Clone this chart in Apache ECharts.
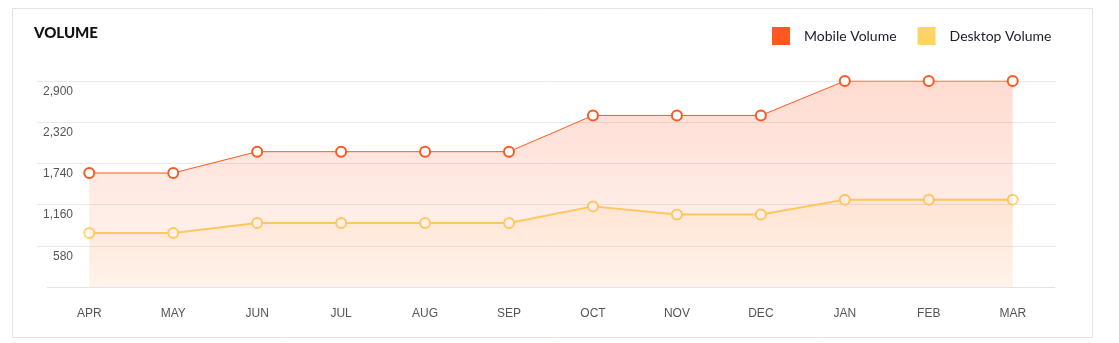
<!DOCTYPE html>
<html>
<head>
<meta charset="utf-8">
<script src="https://cdn.jsdelivr.net/npm/echarts@6/dist/echarts.min.js"></script>
<style>
  html, body { margin: 0; padding: 0; background: #fff; }
  #chart { width: 1119px; height: 343px; }
</style>
</head>
<body>
<div id="chart"></div>
<script>
// Monthly volume, April through March
const months = ['APR', 'MAY', 'JUN', 'JUL', 'AUG', 'SEP', 'OCT', 'NOV', 'DEC', 'JAN', 'FEB', 'MAR'];
const mobileVolume = [1605, 1605, 1905, 1905, 1905, 1905, 2415, 2415, 2415, 2900, 2900, 2900];
const desktopVolume = [760, 760, 900, 900, 900, 900, 1135, 1020, 1020, 1230, 1230, 1230];
const yTicks = [0, 580, 1160, 1740, 2320, 2900];

const MOBILE = '#ff5722';
const DESKTOP = '#ffd465';
const GRID_TOP = 81;
const GRID_BOTTOM = 343 - 287;

const chart = echarts.init(document.getElementById('chart'));

chart.setOption({
  animation: false,
  backgroundColor: '#fff',
  graphic: [{
    type: 'rect',
    shape: { x: 12.5, y: 8.5, width: 1080, height: 329 },
    style: { fill: 'none', stroke: '#e2e3ea', lineWidth: 1 },
    z: -1
  }],
  title: {
    text: 'VOLUME',
    left: 34,
    top: 26,
    padding: 0,
    textStyle: { fontFamily: 'Lato', fontWeight: 900, fontSize: 15, color: '#111' }
  },
  legend: {
    left: 772,
    top: 27,
    padding: 0,
    icon: 'rect',
    itemWidth: 18,
    itemHeight: 18,
    itemGap: 21,
    itemStyle: { borderWidth: 0 },
    textStyle: { fontFamily: 'Lato', fontSize: 14, color: '#1c1c2a', padding: [0, 0, 0, 9] },
    data: [
      { name: 'Mobile Volume', itemStyle: { color: MOBILE } },
      { name: 'Desktop Volume', itemStyle: { color: DESKTOP } }
    ]
  },
  grid: [
    // grid for the horizontal guide lines and value labels
    { left: 37, right: 1119 - 1056, top: GRID_TOP, bottom: GRID_BOTTOM },
    // grid for the months and the two series
    { left: 47.3, right: 1119 - 1054.7, top: GRID_TOP, bottom: GRID_BOTTOM }
  ],
  xAxis: [
    { gridIndex: 0, type: 'value', show: false },
    {
      gridIndex: 1,
      type: 'category',
      data: months,
      boundaryGap: true,
      axisLine: { lineStyle: { color: '#e2e3ea' } },
      axisTick: { show: false },
      axisLabel: { color: '#555', fontFamily: 'Liberation Sans', fontSize: 12, margin: 21 }
    }
  ],
  yAxis: [
    {
      gridIndex: 0,
      type: 'value',
      min: yTicks[0],
      max: yTicks[yTicks.length - 1],
      interval: yTicks[1] - yTicks[0],
      axisLine: { show: false },
      axisTick: { show: false },
      splitLine: {
        lineStyle: { color: ['rgba(0,0,0,0)', '#e8e9ee', '#e8e9ee', '#e8e9ee', '#e8e9ee', '#e8e9ee'] }
      },
      axisLabel: {
        inside: true,
        align: 'right',
        verticalAlign: 'top',
        margin: 36,
        lineHeight: 13,
        padding: [4, 0, 0, 0],
        color: '#555',
        fontFamily: 'Liberation Sans',
        fontSize: 12,
        formatter: v => (v === 0 ? '' : v.toLocaleString('en-US'))
      }
    },
    {
      gridIndex: 1,
      type: 'value',
      min: yTicks[0],
      max: yTicks[yTicks.length - 1],
      show: false,
      splitLine: { show: false }
    }
  ],
  series: [
    {
      name: 'Mobile Volume',
      type: 'line',
      xAxisIndex: 1,
      yAxisIndex: 1,
      data: mobileVolume,
      color: MOBILE,
      symbol: 'circle',
      symbolSize: 10,
      lineStyle: { color: MOBILE, width: 1 },
      itemStyle: { color: '#fff', borderColor: MOBILE, borderWidth: 2 },
      areaStyle: {
        origin: 'start',
        color: new echarts.graphic.LinearGradient(0, 0, 0, 1, [
          { offset: 0, color: 'rgba(255,87,34,0.30)' },
          { offset: 1, color: 'rgba(255,87,34,0.07)' }
        ])
      },
      z: 3
    },
    {
      name: 'Desktop Volume',
      type: 'line',
      xAxisIndex: 1,
      yAxisIndex: 1,
      data: desktopVolume,
      color: DESKTOP,
      symbol: 'circle',
      symbolSize: 10,
      lineStyle: { color: DESKTOP, width: 2 },
      itemStyle: { color: '#fff', borderColor: DESKTOP, borderWidth: 2 },
      areaStyle: {
        origin: 'start',
        color: new echarts.graphic.LinearGradient(0, 0, 0, 1, [
          { offset: 0, color: 'rgba(255,200,110,0.20)' },
          { offset: 1, color: 'rgba(255,200,110,0.10)' }
        ])
      },
      z: 2
    }
  ]
});
</script>
</body>
</html>
